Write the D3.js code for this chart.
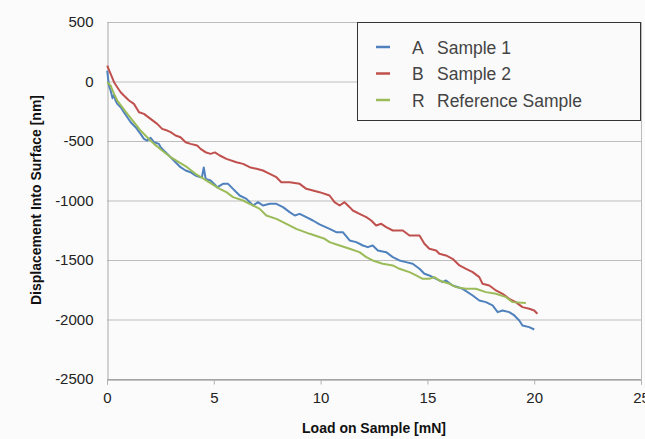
<!DOCTYPE html>
<html>
<head>
<meta charset="utf-8">
<script src="https://cdn.jsdelivr.net/npm/d3@7"></script>
<style>
  html, body { margin: 0; padding: 0; background: #fbfbfb; }
  svg { display: block; font-family: "Liberation Sans", Arial, Helvetica, sans-serif; }
</style>
</head>
<body>
<svg id="chart" width="645" height="439"></svg>
<script>
// ---- data (load in mN, displacement in nm) ----
const seriesNames = ["Sample 1", "Sample 2", "Reference Sample"];
const seriesKeys = ["A", "B", "R"];
const xTicks = [0, 5, 10, 15, 20, 25];
const yTicks = [500, 0, -500, -1000, -1500, -2000, -2500];

const sampleA = [
  [0.01, 92], [0.09, -34], [0.17, -76], [0.26, -140], [0.33, -115], [0.40, -160], [0.48, -188],
  [0.64, -216], [0.79, -258], [0.95, -300], [1.11, -342], [1.34, -384], [1.57, -440],
  [1.73, -482], [1.88, -496], [2.04, -473], [2.20, -510], [2.43, -524], [2.51, -552],
  [2.74, -594], [2.98, -636], [3.21, -678], [3.44, -720], [3.68, -748], [3.91, -762],
  [4.14, -790], [4.38, -804], [4.45, -800], [4.53, -722], [4.62, -818], [4.85, -832],
  [5.09, -874], [5.15, -890], [5.43, -860], [5.67, -860], [5.90, -902], [6.21, -958],
  [6.53, -986], [6.84, -1042], [7.07, -1014], [7.30, -1042], [7.62, -1028], [7.93, -1028],
  [8.24, -1056], [8.55, -1098], [8.79, -1126], [9.02, -1112], [9.33, -1140], [9.64, -1168],
  [9.95, -1200], [10.42, -1238], [10.73, -1266], [11.04, -1266], [11.36, -1336], [11.67, -1350],
  [11.98, -1378], [12.21, -1392], [12.44, -1378], [12.68, -1420], [13.07, -1434], [13.38, -1476],
  [13.69, -1504], [14.00, -1518], [14.31, -1532], [14.63, -1574], [14.86, -1616], [15.09, -1630],
  [15.41, -1658], [15.72, -1686], [15.87, -1672], [16.18, -1714], [16.65, -1742], [17.12, -1798],
  [17.43, -1840], [17.74, -1854], [18.05, -1882], [18.29, -1938], [18.52, -1924], [18.83, -1938],
  [19.07, -1966], [19.30, -2008], [19.45, -2050], [19.77, -2064], [20.00, -2084]
];

const sampleB = [
  [0.01, 134], [0.17, 65], [0.33, -6], [0.48, -48], [0.64, -90], [0.79, -118], [1.03, -160],
  [1.26, -188], [1.50, -258], [1.73, -272], [2.04, -314], [2.35, -356], [2.58, -398],
  [2.82, -412], [2.98, -426], [3.21, -454], [3.44, -468], [3.68, -510], [3.91, -524],
  [4.22, -538], [4.38, -566], [4.61, -594], [4.85, -608], [5.05, -596], [5.28, -622],
  [5.59, -650], [6.06, -678], [6.37, -692], [6.68, -720], [7.00, -734], [7.30, -748],
  [7.62, -776], [7.93, -804], [8.16, -846], [8.55, -846], [9.02, -860], [9.33, -902],
  [9.64, -916], [9.95, -930], [10.42, -958], [10.65, -1014], [10.89, -1042], [11.12, -1014],
  [11.36, -1056], [11.51, -1084], [11.82, -1112], [12.14, -1140], [12.37, -1168], [12.60, -1210],
  [12.84, -1196], [13.07, -1224], [13.38, -1252], [13.85, -1252], [14.16, -1294], [14.63, -1294],
  [14.86, -1364], [15.09, -1406], [15.41, -1420], [15.56, -1448], [15.87, -1462], [16.18, -1490],
  [16.50, -1546], [16.81, -1574], [17.12, -1602], [17.43, -1644], [17.58, -1700], [17.90, -1714],
  [18.21, -1756], [18.52, -1784], [18.83, -1826], [19.14, -1854], [19.45, -1896], [19.77, -1910],
  [20.00, -1924], [20.15, -1952]
];

const sampleR = [
  [0.01, -6], [0.17, -34], [0.33, -104], [0.48, -160], [0.71, -216], [0.95, -272], [1.26, -342],
  [1.57, -412], [1.88, -468], [2.20, -524], [2.58, -580], [2.98, -636], [3.36, -678],
  [3.75, -720], [4.14, -776], [4.53, -818], [5.09, -882], [5.28, -902], [5.59, -930],
  [5.90, -972], [6.37, -1000], [6.68, -1028], [7.15, -1070], [7.46, -1126], [7.93, -1154],
  [8.40, -1196], [8.86, -1238], [9.49, -1280], [10.19, -1322], [10.42, -1350], [10.89, -1378],
  [11.36, -1406], [11.82, -1434], [12.14, -1476], [12.44, -1504], [12.91, -1532], [13.38, -1546],
  [13.69, -1574], [14.16, -1602], [14.47, -1630], [14.78, -1658], [15.09, -1658], [15.33, -1644],
  [15.56, -1672], [16.03, -1700], [16.34, -1728], [16.81, -1742], [17.27, -1742], [17.74, -1770],
  [18.21, -1784], [18.68, -1812], [18.99, -1854], [19.61, -1862]
];

const colors = ["#4F81BD", "#C0504D", "#9BBB59"];
const allSeries = [sampleA, sampleB, sampleR];

// ---- layout ----
const svg = d3.select("#chart");
const L = 107, R = 641, T = 22, B = 379;

const x = d3.scaleLinear().domain([0, 25]).range([L, R]);
const y = d3.scaleLinear().domain([-2500, 500]).range([B, T]);
const fmt = d => String(d);

// gridlines
svg.append("g")
  .selectAll("line")
  .data(yTicks)
  .join("line")
  .attr("x1", L).attr("x2", R)
  .attr("y1", d => y(d) + 0.5).attr("y2", d => y(d) + 0.5)
  .attr("stroke", "#bdbdbd").attr("stroke-width", 1);

// right border
svg.append("line")
  .attr("x1", R + 0.5).attr("x2", R + 0.5).attr("y1", T).attr("y2", B)
  .attr("stroke", "#bdbdbd");

// y axis
const yAxis = svg.append("g")
  .attr("transform", `translate(${L + 0.5},0)`)
  .call(d3.axisLeft(y).tickValues(yTicks).tickSize(0).tickPadding(14).tickFormat(fmt));
yAxis.select(".domain").attr("stroke", "#a8a8a8");
yAxis.selectAll("text").attr("font-size", 15).attr("fill", "#222")
  .attr("font-family", "Liberation Sans, Arial, sans-serif");

// x axis
const xAxis = svg.append("g")
  .attr("transform", `translate(0,${B + 0.5})`)
  .call(d3.axisBottom(x).tickValues(xTicks).tickSize(5).tickPadding(8).tickFormat(fmt));
xAxis.select(".domain").attr("stroke", "#8a8a8a");
xAxis.selectAll(".tick line").attr("stroke", "#b0b0b0");
xAxis.selectAll("text").attr("font-size", 15).attr("fill", "#222")
  .attr("font-family", "Liberation Sans, Arial, sans-serif");

// axis titles
svg.append("text")
  .attr("x", 374).attr("y", 433)
  .attr("text-anchor", "middle")
  .attr("font-size", 14).attr("font-weight", "bold").attr("fill", "#111")
  .text("Load on Sample [mN]");

svg.append("text")
  .attr("transform", "translate(41,200) rotate(-90)")
  .attr("text-anchor", "middle")
  .attr("font-size", 14).attr("font-weight", "bold").attr("fill", "#111")
  .text("Displacement Into Surface [nm]");

// lines
const line = d3.line().x(d => x(d[0])).y(d => y(d[1]));
svg.append("g")
  .selectAll("path")
  .data(allSeries)
  .join("path")
  .attr("d", line)
  .attr("fill", "none")
  .attr("stroke", (d, i) => colors[i])
  .attr("stroke-width", 2)
  .attr("stroke-linejoin", "round");

// legend
const lg = svg.append("g");
lg.append("rect")
  .attr("x", 357.5).attr("y", 22.5).attr("width", 283).attr("height", 98)
  .attr("fill", "#fafafa").attr("stroke", "#333").attr("stroke-width", 1);
const rows = lg.selectAll("g.row")
  .data(seriesNames)
  .join("g").attr("class", "row")
  .attr("transform", (d, i) => `translate(0,${47 + i * 26.5})`);
rows.append("line")
  .attr("x1", 376).attr("x2", 390).attr("y1", 0).attr("y2", 0)
  .attr("stroke", (d, i) => colors[i]).attr("stroke-width", 2.5);
rows.append("text")
  .attr("x", 412).attr("y", 6.5)
  .attr("font-size", 17.5).attr("fill", "#444")
  .text((d, i) => seriesKeys[i]);
rows.append("text")
  .attr("x", 437).attr("y", 6.5)
  .attr("font-size", 17.5).attr("fill", "#444")
  .text(d => d);
</script>
</body>
</html>
